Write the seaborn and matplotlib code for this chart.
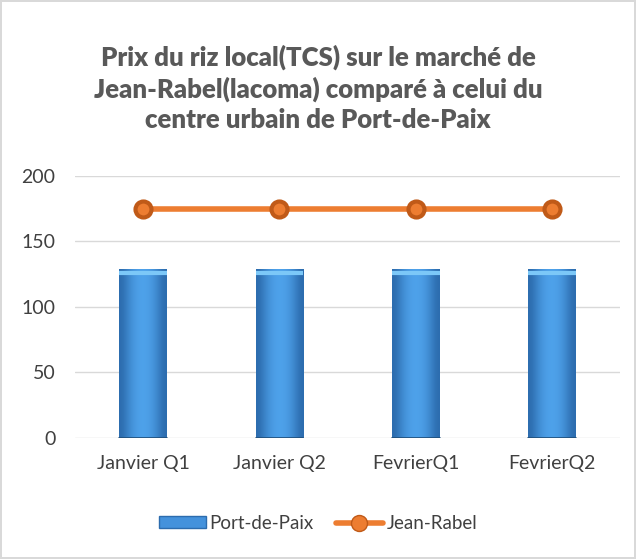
import matplotlib
matplotlib.use("Agg")
import matplotlib.pyplot as plt
import numpy as np
import pandas as pd
import seaborn as sns
from matplotlib.lines import Line2D
from matplotlib.patches import Patch

# Data
categories = ["Janvier Q1", "Janvier Q2", "FevrierQ1", "FevrierQ2"]
port_de_paix = [129, 129, 129, 129]
jean_rabel = [175, 175, 175, 175]

df = pd.DataFrame({"periode": categories,
                   "Port-de-Paix": port_de_paix,
                   "Jean-Rabel": jean_rabel})

sns.set_style("white")
plt.rcParams["font.family"] = ["Lato", "DejaVu Sans"]

fig = plt.figure(figsize=(6.36, 5.59), dpi=100)
fig.patch.set_edgecolor("#d9d9d9")
fig.patch.set_linewidth(1.5)
ax = fig.add_axes([0.118, 0.2165, 0.857, 0.4687])

# Bars
sns.barplot(data=df, x="periode", y="Port-de-Paix", ax=ax, color="#4492dc",
            width=0.35, saturation=1, edgecolor="none", zorder=2)

# Gradient on bars
grad = np.array([[0.0, 0.5, 0.8, 0.9, 0.8, 0.5, 0.0]])
cmap = matplotlib.colors.LinearSegmentedColormap.from_list("b", ["#2c6cae", "#4fa3ec"])
for p in ax.patches:
    x0, y0 = p.get_x(), p.get_y()
    w, h = p.get_width(), p.get_height()
    im = ax.imshow(grad, cmap=cmap, extent=[x0, x0 + w, y0, y0 + h],
                   aspect="auto", zorder=3, interpolation="bicubic")
    im.set_clip_path(p)
    ax.plot([x0, x0 + w], [y0 + h * 0.975, y0 + h * 0.975], color="#7cc8f8",
            lw=3, zorder=4, solid_capstyle="butt")
    ax.plot([x0, x0 + w], [0.3, 0.3], color="#1f4e79", lw=1.2, zorder=4)

# Line
sns.pointplot(data=df, x="periode", y="Jean-Rabel", ax=ax, color="#ED7D31",
              markers="o", linewidth=4, markersize=11.5,
              markeredgecolor="#c05a18", zorder=5)

ax.set_ylim(0, 200)
ax.set_xlim(-0.5, 3.5)
ax.set_yticks([0, 50, 100, 150, 200])
ax.grid(axis="y", color="#d9d9d9", lw=1, zorder=0)
ax.set_axisbelow(True)
for s in ax.spines.values():
    s.set_visible(False)
ax.set_xlabel("")
ax.set_ylabel("")
ax.tick_params(axis="both", length=0, labelsize=14, colors="#404040")
ax.tick_params(axis="x", pad=12)
ax.tick_params(axis="y", pad=14)

fig.text(0.5, 0.8426, "Prix du riz local(TCS) sur le marché de\n"
         "Jean-Rabel(lacoma) comparé à celui du\n"
         "centre urbain de Port-de-Paix",
         ha="center", va="center", fontsize=18.5, fontweight="heavy",
         color="#595959", linespacing=1.3)

handles = [Patch(facecolor="#4492dc", edgecolor="#2c6cae"),
           Line2D([0], [0], color="#ED7D31", lw=4, marker="o", markersize=11.5,
                  markeredgecolor="#c05a18")]
fig.legend(handles, ["Port-de-Paix", "Jean-Rabel"], loc="center",
           bbox_to_anchor=(0.5, 0.064), ncol=2, frameon=False, fontsize=13.5,
           labelcolor="#404040", handlelength=2.5, handleheight=0.55,
           columnspacing=1.2, handletextpad=0.2)

fig.savefig("out.png", dpi=100)
